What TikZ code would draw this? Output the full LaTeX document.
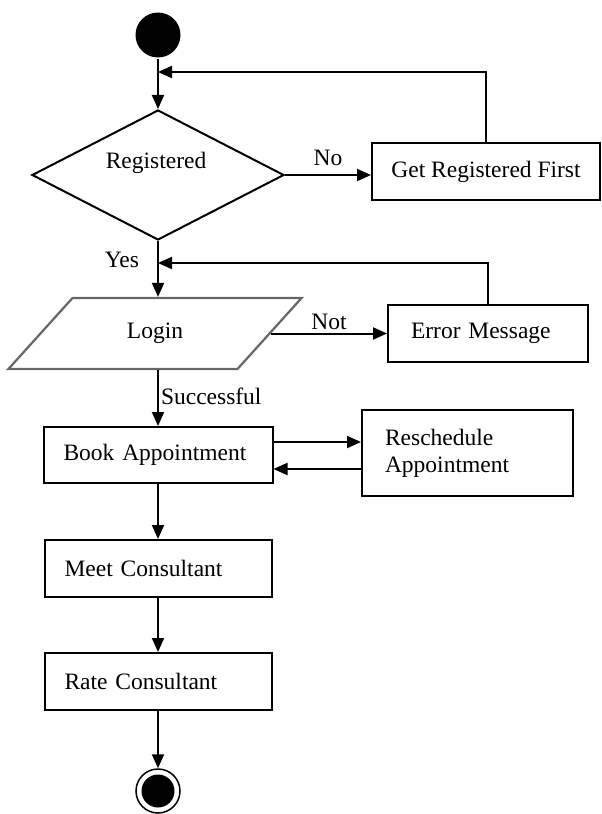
\documentclass[tikz,border=0pt]{standalone}
\usepackage{fontspec}
\setmainfont{Liberation Serif}
\usetikzlibrary{shapes.geometric,arrows.meta}

\begin{document}
\begin{tikzpicture}[x=1pt,y=-1pt,
  font=\fontsize{23.5}{27}\selectfont,
  line width=2pt,
  arr/.style={-{Triangle[length=14pt,width=12pt]}},
  box/.style={draw, rectangle, line width=2pt, minimum height=57pt, inner ysep=0pt},
  leftbox/.style={box, align=left},
  lbl/.style={inner sep=0pt},
  initial/.style={circle, fill=black, inner sep=0pt, minimum size=#1},
]
\useasboundingbox (0,0) rectangle (602,814);

% activity nodes
\node[initial=45pt] (start) at (158,35) {};
\node[diamond, draw, line width=2pt, minimum width=252pt, minimum height=130pt, inner sep=0pt] (reg) at (158,175) {};
\node[lbl] (regtxt) at (156,163) {Registered};
\node[box, minimum width=228pt] (getreg) at (486,171.5) {Get Registered First};
\node[trapezium, draw=black!60, line width=2.2pt,
      trapezium left angle=43.4, trapezium right angle=136.6,
      trapezium stretches=true, minimum width=294pt, minimum height=71pt,
      inner sep=0pt] (login) at (155,333.5) {Login};
\node[leftbox, text width=154pt, inner xsep=23pt] (err) at (488,333.5) {Error Message};
\node[leftbox, minimum height=56pt, text width=189pt, inner xsep=20pt] (book) at (158,455) {Book Appointment};
\node[leftbox, minimum height=86pt, text width=165pt, inner xsep=23pt] (resched) at (467.5,453) {Reschedule\\Appointment};
\node[leftbox, text width=187pt, inner xsep=20pt] (meet) at (158,568.5) {Meet Consultant};
\node[leftbox, text width=187pt, inner xsep=20pt] (rate) at (158,681.5) {Rate Consultant};
\node[circle, draw, line width=1.5pt, minimum size=44pt, inner sep=0pt] (end) at (158,791) {};
\node[initial=33pt] (endin) at (end.center) {};

% junctions where the loops rejoin the main flow
\coordinate (j1) at (158,72);
\coordinate (j2) at (158,263);

% connectors
\draw[arr] (start) -- (reg);
\draw[arr] (getreg.north) |- (j1);
\draw[arr] (reg.east) -- (reg.east -| getreg.west)
  node[lbl, midway, above=8pt] (no) {No};
\draw[arr] (reg.south) -- (reg.south |- login.north)
  node[lbl, pos=0.345, anchor=east, xshift=-18pt] (yes) {Yes};
\draw[arr] (err.north) |- (j2);
\draw[arr] (login.east) -- (login.east -| err.west)
  node[lbl, midway, above=3pt] (not) {Not};
\draw[arr] (book.north |- login.south) -- (book.north)
  node[lbl, pos=0.466, anchor=west, xshift=2pt] (ok) {Successful};
\draw[arr] ([yshift=13pt]book.east) -- ([yshift=13pt]book.east -| resched.west);
\draw[arr] ([yshift=-14pt]book.east -| resched.west) -- ([yshift=-14pt]book.east);
\draw[arr] (book) -- (meet);
\draw[arr] (meet) -- (rate);
\draw[arr] (rate) -- (end);
\end{tikzpicture}
\end{document}
